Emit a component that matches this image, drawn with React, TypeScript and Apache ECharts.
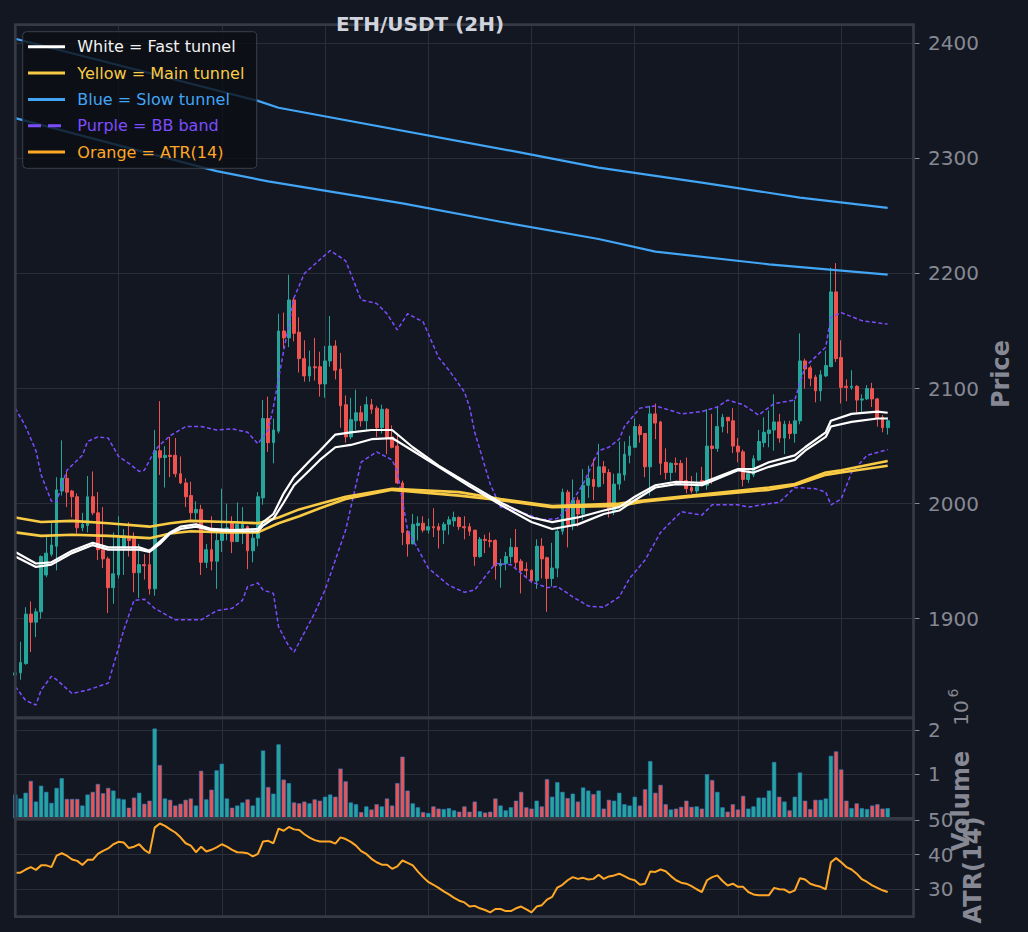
import React, { useEffect, useRef } from "react";
import * as echarts from "echarts";

// ---------------- data ----------------
const TITLE = "ETH/USDT (2H)";
const CATEGORY_COUNT = 175;
const categories = Array.from({ length: CATEGORY_COUNT }, (_, i) => String(i));

// [open, close, low, high]
const candles = [
  [1851,1853,1846,1860],[1853,1862,1847,1880],[1861,1904,1860,1910],[1904,1897,1871,1915],[1897,1906,1884,1909],
  [1906,1954,1900,1955],[1938,1957,1936,1972],[1956,1964,1954,1983],[1963,2012,1942,2023],[2011,2022,2007,2055],
  [2022,2010,1997,2029],[2011,2006,1988,2012],[2006,1979,1974,2009],[1979,1982,1976,1992],[1981,2006,1975,2024],
  [2006,1992,1990,2028],[1992,1960,1951,2010],[1960,1952,1944,1997],[1952,1927,1905,1954],[1927,1939,1913,1975],
  [1938,1970,1935,1989],[1962,1972,1938,1978],[1970,1968,1954,1984],[1970,1940,1923,1975],[1940,1947,1918,1965],
  [1947,1946,1934,1956],[1947,1926,1921,1961],[1926,2046,1920,2064],[2046,2040,2025,2089],[2040,2042,2014,2050],
  [2042,2041,2023,2058],[2042,2026,2023,2057],[2026,2018,2017,2041],[2018,2006,1997,2022],[2007,1992,1986,2019],
  [1992,1995,1986,2002],[1995,1949,1938,1999],[1949,1960,1944,1965],[1960,1950,1942,1989],[1950,1968,1926,1975],
  [1968,1975,1958,2013],[1975,1979,1968,2000],[1983,1967,1957,1989],[1967,1982,1967,2001],[1979,1982,1965,1997],
  [1980,1959,1943,1981],[1959,1970,1949,1977],[1970,2006,1963,2010],[2005,2074,1999,2090],[2074,2053,2045,2093],
  [2053,2064,2035,2074],[2063,2150,2061,2165],[2150,2144,2135,2166],[2144,2177,2136,2199],[2177,2148,2141,2179],
  [2149,2126,2114,2162],[2126,2111,2106,2142],[2111,2119,2106,2133],[2119,2118,2107,2144],[2119,2104,2093,2132],
  [2104,2124,2092,2137],[2124,2137,2119,2163],[2137,2116,2108,2142],[2117,2085,2066,2131],[2086,2058,2053,2094],
  [2058,2073,2056,2092],[2072,2079,2064,2099],[2079,2072,2067,2085],[2072,2086,2064,2093],[2086,2082,2078,2091],
  [2083,2066,2058,2085],[2066,2082,2061,2086],[2082,2057,2043,2083],[2058,2049,2048,2068],[2050,2018,2017,2061],
  [2018,1975,1964,2020],[1976,1965,1954,1977],[1965,1982,1965,1991],[1981,1983,1968,1989],[1983,1977,1975,1989],
  [1977,1980,1974,1987],[1980,1979,1971,1996],[1980,1977,1961,1983],[1977,1982,1965,1984],[1982,1986,1973,1989],
  [1985,1988,1980,1993],[1988,1980,1977,1989],[1980,1979,1969,1989],[1980,1976,1972,1983],[1977,1954,1946,1977],
  [1954,1969,1953,1971],[1969,1968,1957,1973],[1968,1967,1962,1975],[1968,1946,1934,1969],[1946,1948,1927,1952],
  [1948,1954,1942,1958],[1954,1962,1948,1970],[1962,1949,1943,1978],[1950,1942,1922,1952],[1943,1942,1935,1949],
  [1942,1933,1931,1943],[1933,1963,1926,1969],[1963,1952,1935,1970],[1953,1935,1906,1954],[1935,1944,1928,1966],
  [1944,1976,1936,1980],[1976,2010,1973,2013],[2010,1982,1962,2012],[1982,2003,1977,2021],[2003,1991,1980,2006],
  [1991,2016,1986,2030],[2016,2022,2005,2033],[2021,2015,2003,2039],[2015,2032,2014,2052],[2032,2027,2017,2037],
  [2027,1995,1988,2030],[1994,2017,1990,2026],[2017,2026,2012,2054],[2025,2043,2020,2054],[2042,2050,2035,2059],
  [2049,2067,2049,2074],[2067,2060,2053,2069],[2061,2032,2023,2061],[2032,2078,2007,2085],[2078,2070,2056,2087],
  [2071,2035,2025,2072],[2036,2027,2021,2048],[2027,2035,2020,2036],[2035,2034,2027,2040],[2035,2020,2017,2038],
  [2020,2013,2009,2040],[2014,2011,2009,2024],[2011,2015,2009,2027],[2020,2016,2015,2032],[2016,2050,2012,2082],
  [2050,2048,2017,2078],[2048,2067,2045,2084],[2067,2075,2062,2078],[2075,2072,2061,2075],[2072,2050,2044,2083],
  [2050,2045,2036,2057],[2045,2021,2015,2047],[2021,2026,2018,2030],[2025,2039,2023,2042],[2038,2054,2037,2064],
  [2053,2062,2049,2075],[2061,2064,2049,2081],[2064,2071,2046,2095],[2071,2057,2053,2078],[2057,2069,2043,2072],
  [2069,2061,2056,2072],[2061,2072,2053,2090],[2072,2124,2069,2148],[2124,2117,2100,2126],[2118,2109,2102,2120],
  [2110,2098,2088,2112],[2098,2112,2089,2116],[2111,2120,2110,2133],[2119,2184,2119,2205],[2184,2126,2123,2209],
  [2127,2101,2087,2142],[2102,2101,2089,2108],[2101,2102,2099,2116],[2102,2090,2079,2103],[2090,2091,2079,2095],
  [2091,2100,2090,2103],[2100,2091,2084,2105],[2091,2074,2067,2092],[2075,2066,2062,2077],[2066,2072,2060,2075],
];

// volume in millions (axis offset 10^6)
const volumeM = [
  0.54,0.45,0.58,0.85,0.38,0.74,0.60,0.35,0.69,0.91,
  0.44,0.44,0.44,0.29,0.54,0.60,0.78,0.57,0.69,0.63,
  0.45,0.43,0.24,0.47,0.58,0.33,0.40,2.04,1.21,0.45,
  0.42,0.29,0.33,0.42,0.45,0.29,1.08,0.43,0.65,1.09,
  1.24,0.45,0.24,0.29,0.36,0.43,0.29,0.47,1.54,0.71,
  0.56,1.68,0.88,0.80,0.36,0.34,0.38,0.34,0.43,0.40,
  0.49,0.54,0.49,1.13,0.84,0.36,0.32,0.14,0.27,0.20,
  0.32,0.27,0.45,0.29,0.80,1.40,0.63,0.34,0.25,0.14,
  0.12,0.27,0.22,0.21,0.23,0.18,0.15,0.27,0.15,0.38,
  0.16,0.13,0.15,0.45,0.29,0.18,0.25,0.40,0.60,0.25,
  0.22,0.40,0.27,0.89,0.49,0.82,0.60,0.46,0.56,0.38,
  0.70,0.63,0.55,0.63,0.22,0.42,0.40,0.58,0.32,0.29,
  0.49,0.29,0.66,1.30,0.58,0.76,0.32,0.20,0.22,0.26,
  0.40,0.26,0.27,0.22,1.00,0.87,0.60,0.25,0.15,0.32,
  0.20,0.51,0.22,0.27,0.47,0.47,0.63,1.28,0.49,0.38,
  0.18,0.49,1.04,0.40,0.21,0.42,0.42,0.45,1.42,1.52,
  1.11,0.40,0.23,0.34,0.23,0.21,0.29,0.32,0.22,0.23,
];

const atr14 = [
  34.8,34.8,35.7,36.4,35.6,36.9,36.9,36.4,39.7,40.4,
  39.7,38.6,38.2,37.0,38.5,38.5,40.2,41.1,41.8,43.0,
  43.7,43.5,41.9,42.3,43.0,41.4,40.4,47.8,49.0,48.3,
  47.3,46.4,45.0,43.3,42.6,40.7,42.3,40.9,41.4,42.1,
  43.0,42.3,41.4,40.7,40.6,40.4,39.5,40.2,43.8,44.0,
  43.3,47.5,46.9,48.0,47.3,47.1,45.9,44.9,44.2,43.8,
  43.8,43.8,43.2,45.0,44.5,43.7,42.6,41.0,40.2,38.8,
  37.8,37.1,37.1,35.9,36.6,38.3,37.6,36.9,35.1,33.5,
  32.1,31.3,30.4,29.4,28.5,27.5,26.7,26.2,25.0,25.2,
  24.5,24.0,23.3,24.3,24.3,23.7,23.7,24.5,25.0,24.2,
  23.3,25.0,25.4,27.0,27.8,30.5,31.3,32.6,33.5,33.0,
  33.3,32.8,33.0,34.2,33.0,33.7,34.0,34.5,33.8,33.0,
  32.6,31.3,31.6,35.1,35.0,35.7,35.2,33.8,32.6,31.9,
  31.6,30.9,30.0,29.2,32.6,33.5,34.0,32.4,31.1,31.6,
  30.7,30.7,29.2,28.5,28.3,28.3,28.3,30.4,30.0,29.9,
  29.0,29.7,33.2,32.8,31.6,31.1,30.7,30.0,37.8,39.0,
  37.8,36.4,35.7,34.5,32.9,32.1,31.1,30.4,29.7,29.2,
];

// [candle index, price]
const fastTunnelA = [
  [0,1958],[4,1948],[7,1949],[11,1959],[15,1966],[18,1962],[24,1962],[26,1959],[28,1967],[30,1975],
  [32,1980],[35,1982],[38,1978],[42,1977],[47,1978],[48,1984],[50,1991],[52,2009],[54,2023],[57,2037],
  [59,2046],[62,2060],[65,2062],[69,2064],[73,2064],[77,2049],[82,2033],[88,2017],[94,2001],[100,1988],
  [104,1984],[109,1988],[114,1994],[117,1997],[120,2006],[124,2016],[128,2019],[133,2018],[140,2030],[143,2030],
  [146,2036],[151,2042],[153,2049],[157,2062],[158,2072],[162,2078],[167,2080],[169,2079],
];
const fastTunnelB = [
  [0,1954],[4,1945],[7,1947],[11,1957],[15,1964],[18,1960],[24,1960],[26,1958],[28,1965],[30,1974],
  [32,1978],[35,1980],[38,1977],[42,1976],[47,1976],[48,1981],[50,1987],[52,2001],[54,2016],[57,2029],
  [59,2038],[62,2049],[65,2051],[69,2056],[73,2057],[77,2046],[82,2032],[88,2015],[94,1999],[100,1984],
  [104,1978],[109,1982],[114,1991],[117,1994],[120,2003],[124,2014],[128,2017],[133,2016],[140,2029],[143,2027],
  [146,2032],[151,2038],[153,2046],[157,2058],[158,2067],[162,2071],[167,2074],[169,2074],
];
const mainTunnelA = [
  [0,1988],[5,1984],[11,1985],[18,1983],[26,1980],[30,1983],[34,1985],[41,1984],[47,1983],[51,1988],
  [55,1995],[59,2000],[64,2006],[73,2013],[86,2010],[94,2004],[104,1998],[117,2000],[122,2003],[131,2007],
  [146,2014],[151,2017],[157,2027],[160,2029],[169,2037],
];
const mainTunnelB = [
  [0,1975],[5,1972],[11,1973],[18,1972],[26,1970],[30,1974],[34,1976],[41,1975],[47,1975],[51,1983],
  [55,1989],[59,1996],[64,2004],[73,2012],[86,2007],[94,2003],[104,1997],[117,1998],[122,2002],[131,2006],
  [146,2012],[151,2016],[157,2025],[160,2027],[169,2033],
];
const slowTunnelA = [
  [0,2404],[47,2350],[51,2344],[98,2305],[113,2292],[133,2279],[152,2266],[169,2257],
];
const slowTunnelB = [
  [0,2335],[39,2289],[49,2280],[75,2261],[94,2245],[113,2230],[124,2219],[146,2208],[169,2199],
];
const bbUpper = [
  [0,2083],[2,2067],[4,2046],[5,2025],[7,2002],[8,2002],[10,2029],[13,2042],[14,2054],[16,2058],
  [18,2057],[20,2041],[22,2035],[24,2028],[25,2029],[27,2046],[28,2051],[30,2059],[33,2067],[36,2067],
  [39,2064],[42,2065],[45,2062],[47,2052],[49,2064],[50,2084],[52,2133],[54,2179],[56,2200],[59,2212],
  [61,2220],[64,2211],[67,2177],[70,2174],[72,2165],[74,2151],[76,2165],[79,2158],[82,2127],[84,2116],
  [87,2097],[88,2084],[89,2062],[92,2017],[94,1997],[99,1991],[102,1986],[105,1987],[107,1996],[110,2017],
  [113,2046],[115,2049],[117,2056],[118,2067],[121,2083],[124,2085],[127,2081],[129,2078],[133,2080],[136,2084],
  [138,2090],[141,2086],[144,2077],[147,2087],[151,2090],[153,2119],[157,2136],[158,2162],[160,2166],[164,2159],
  [169,2156],
];
const bbLower = [
  [0,1841],[2,1829],[4,1825],[5,1838],[7,1850],[8,1847],[11,1835],[14,1838],[18,1844],[21,1890],
  [23,1916],[25,1917],[27,1909],[31,1899],[36,1899],[39,1907],[42,1909],[44,1916],[45,1928],[47,1931],
  [48,1925],[50,1922],[51,1893],[53,1876],[54,1871],[56,1888],[58,1905],[60,1925],[64,1977],[67,2036],
  [70,2045],[73,2038],[74,2028],[76,1977],[80,1944],[84,1929],[87,1923],[89,1925],[93,1948],[96,1947],
  [100,1932],[103,1927],[105,1928],[108,1919],[111,1911],[114,1910],[117,1919],[119,1935],[122,1951],[125,1975],
  [129,1993],[133,1990],[135,1999],[140,1999],[142,1997],[146,2000],[148,2001],[151,2014],[155,2013],[157,2010],
  [158,1999],[160,2004],[162,2027],[165,2042],[169,2047],
];

const priceTicks = [1900, 2000, 2100, 2200, 2300, 2400];
const volumeTicks = [1, 2];
const atrTicks = [30, 40, 50];

const legendLabels = [
  "White = Fast tunnel",
  "Yellow = Main tunnel",
  "Blue = Slow tunnel",
  "Purple = BB band",
  "Orange = ATR(14)",
];

// ---------------- style / layout ----------------
const BG = "#131722";
const GRID_COLOR = "#2a2e39";
const SPINE = "#363a45";
const LABEL = "#868993";
const UP = "#26a69a";
const DOWN = "#ef5350";
const WHITE = "#ffffff";
const YELLOW = "#f9cb45";
const BLUE = "#42a5f5";
const PURPLE = "#7c4dff";
const ORANGE = "#ffa726";
const FONT = "DejaVu Sans";

const L = 15.3;
const R = 913.5;
const W = R - L;
const PRICE_TOP = 24.7;
const VOL_TOP = 717.8;
const ATR_TOP = 818.3;
const ATR_BOTTOM = 916.6;

function xAxis(gridIndex: number) {
  return {
    type: "category",
    gridIndex,
    data: categories,
    boundaryGap: false,
    axisLine: { show: false },
    axisTick: { show: false },
    axisLabel: { show: false },
    splitLine: { show: true, interval: 19, lineStyle: { color: GRID_COLOR, width: 1 } },
  };
}

function yAxis(gridIndex: number, min: number, max: number, ticks: number[]) {
  return {
    type: "value",
    gridIndex,
    position: "right",
    min,
    max,
    axisLine: { show: false },
    axisTick: { show: true, length: 6, customValues: ticks, lineStyle: { color: LABEL, width: 1 } },
    axisLabel: {
      show: true,
      customValues: ticks,
      color: LABEL,
      fontSize: 20,
      fontFamily: FONT,
      margin: 14.5,
      formatter: (v: number) => String(v),
    },
    splitLine: { show: true, lineStyle: { color: GRID_COLOR, width: 1 } },
  };
}

function line(data: number[][] | number[], color: string, width: number, axis = 0, type: any = "solid") {
  return {
    type: "line",
    xAxisIndex: axis,
    yAxisIndex: axis,
    data,
    symbol: "none",
    showSymbol: false,
    silent: true,
    lineStyle: { color, width, type },
    itemStyle: { color },
    z: 3,
  };
}

function vText(text: string, x: number, y: number, font: string) {
  return {
    type: "text",
    x,
    y,
    rotation: Math.PI / 2,
    z: 120,
    silent: true,
    style: { text, fill: LABEL, font, align: "center", verticalAlign: "middle", textAlign: "center", textVerticalAlign: "middle" },
  };
}

function buildOption() {
  const legendColors = [WHITE, YELLOW, BLUE, PURPLE, ORANGE];
  const legendTextColors = ["#f2f2f2", YELLOW, BLUE, PURPLE, ORANGE];
  const legendChildren: any[] = [
    {
      type: "rect",
      z: 110,
      silent: true,
      shape: { x: 22.7, y: 31.7, width: 234, height: 136.6, r: 4 },
      style: { fill: "rgba(11,14,20,0.8)", stroke: "#3a3f4a", lineWidth: 1 },
    },
  ];
  legendLabels.forEach((label, k) => {
    const y = 46.7 + k * 26.35;
    legendChildren.push({
      type: "line",
      z: 111,
      silent: true,
      shape: { x1: 28, y1: y, x2: 65, y2: y },
      style: { stroke: legendColors[k], lineWidth: 3, lineDash: k === 3 ? [13, 7] : null },
    });
    legendChildren.push({
      type: "text",
      z: 111,
      silent: true,
      x: 77.3,
      y,
      style: {
        text: label, fill: legendTextColors[k], font: `16px "${FONT}"`,
        align: "left", verticalAlign: "middle", textAlign: "left", textVerticalAlign: "middle",
      },
    });
  });

  const spine = (top: number, bottom: number) => ({
    type: "rect",
    shape: { x: L, y: top, width: W, height: bottom - top },
    style: { fill: "none", stroke: SPINE, lineWidth: 2.7 },
    z: 100,
    silent: true,
  });

  return {
    animation: false,
    backgroundColor: BG,
    grid: [
      { left: L, top: PRICE_TOP, width: W, height: VOL_TOP - PRICE_TOP, containLabel: false, outerBoundsMode: "none" },
      { left: L, top: VOL_TOP, width: W, height: ATR_TOP - VOL_TOP, containLabel: false, outerBoundsMode: "none" },
      { left: L, top: ATR_TOP, width: W, height: ATR_BOTTOM - ATR_TOP, containLabel: false, outerBoundsMode: "none" },
    ],
    xAxis: [xAxis(0), xAxis(1), xAxis(2)],
    yAxis: [
      yAxis(0, 1813.9, 2416.2, priceTicks),
      yAxis(1, 0, 2.284, volumeTicks),
      yAxis(2, 22.1, 50.5, atrTicks),
    ],
    series: [
      {
        type: "candlestick",
        xAxisIndex: 0,
        yAxisIndex: 0,
        data: candles,
        barWidth: "64%",
        silent: true,
        itemStyle: { color: UP, color0: DOWN, borderColor: UP, borderColor0: DOWN, borderWidth: 1 },
        z: 2,
      },
      line(bbUpper, PURPLE, 1.5, 0, [4, 2.5]),
      line(bbLower, PURPLE, 1.5, 0, [4, 2.5]),
      line(slowTunnelA, BLUE, 2.2),
      line(slowTunnelB, BLUE, 2.2),
      line(mainTunnelA, YELLOW, 2.6),
      line(mainTunnelB, YELLOW, 2.6),
      line(fastTunnelA, WHITE, 2.2),
      line(fastTunnelB, WHITE, 2.2),
      {
        type: "bar",
        xAxisIndex: 1,
        yAxisIndex: 1,
        barWidth: "82%",
        silent: true,
        data: volumeM.map((v, i) => ({
          value: v,
          itemStyle: { color: candles[i][1] >= candles[i][0] ? UP : DOWN },
        })),
        itemStyle: { borderColor: "#2a7cc9", borderWidth: 0.6, opacity: 1 },
      },
      line(atr14, ORANGE, 2, 2),
    ],
    graphic: [
      spine(PRICE_TOP, VOL_TOP),
      spine(VOL_TOP, ATR_TOP),
      spine(ATR_TOP, ATR_BOTTOM),
      { type: "group", z: 110, silent: true, children: legendChildren },
      {
        type: "text",
        x: 420,
        y: 24,
        z: 120,
        silent: true,
        style: {
          text: TITLE, fill: "#d1d4dc", font: `bold 20px "${FONT}"`,
          align: "center", verticalAlign: "middle", textAlign: "center", textVerticalAlign: "middle",
        },
      },
      vText("Price", 1001, 374, `bold 24px "${FONT}"`),
      vText("Volume", 961, 801, `bold 24px "${FONT}"`),
      vText("ATR(14)", 973, 870, `bold 24px "${FONT}"`),
      vText("10", 961, 713, `20px "${FONT}"`),
      vText("6", 952.5, 693, `14px "${FONT}"`),
    ],
  };
}

export default function App() {
  const ref = useRef<HTMLDivElement>(null);
  useEffect(() => {
    document.body.style.margin = "0";
    document.body.style.background = BG;
    const chart = echarts.init(ref.current as HTMLDivElement, null, { renderer: "svg" });
    chart.setOption(buildOption() as any);
    return () => chart.dispose();
  }, []);
  return (
    <div
      ref={ref}
      style={{ position: "fixed", left: 0, top: 0, width: 1028, height: 932, background: BG }}
    />
  );
}
